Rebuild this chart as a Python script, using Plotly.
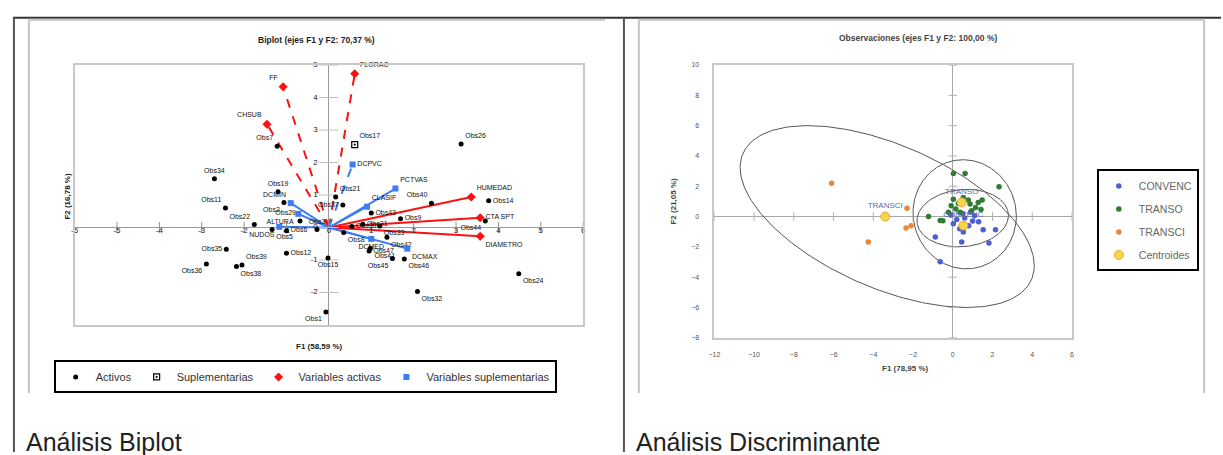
import numpy as np
import plotly.graph_objects as go

W, H = 1223, 455
def px(x): return x / W
def py(y): return 1 - y / H

FONT = "Liberation Sans, Arial, sans-serif"

# ---------------- Biplot data ----------------
ACT_X = [-1.22, 3.12, -2.70, -1.20, -1.06, -2.44, 0.16, 0.33, 2.42, 1.69, 3.77, 3.69,
         -1.76, -1.34, -1.00, -0.68, -0.28, 0.54, 0.98, 1.37, 1.50, 1.78, -1.00, -0.02,
         -2.18, -2.42, -2.89, 4.48, 2.09, -0.07, 0.80, 1.20, 1.00, 0.35, -2.05, 0.95]
ACT_Y = [2.50, 2.57, 1.50, 1.10, 0.77, 0.60, 0.94, 0.69, 0.75, 0.27, 0.82, 0.20,
         0.09, -0.06, -0.10, 0.20, -0.06, 0.03, -0.64, -0.30, -0.95, -0.97, -0.79, -0.94,
         -1.20, -0.67, -1.12, -1.42, -1.97, -2.60, 0.10, 0.05, 0.45, -0.15, -1.15, -0.72]
ACT_LBL = ["Obs7", "Obs26", "Obs34", "Obs19", "Obs2", "Obs11", "Obs21", "Obs37", "Obs40",
           "Obs9", "Obs14", "Obs44", "Obs22", "Obs5", "Obs6", "Obs29", "Obs3", "Obs30",
           "Obs41", "Obs42", "Obs45", "Obs46", "Obs12", "Obs15", "Obs38", "Obs35", "Obs36",
           "Obs24", "Obs32", "Obs1", "Obs31", "Obs33", "Obs43", "Obs8", "Obs39", "Obs47"]
ACT_POS = ["top left", "top right", "top center", "top center", "bottom left", "top left",
           "top right", "middle left", "top left", "middle right", "middle right", "bottom left",
           "top left", "bottom right", "middle right", "top left", "top center", "middle right",
           "bottom right", "bottom right", "bottom left", "bottom right", "middle right", "bottom center",
           "bottom right", "middle left", "bottom left", "bottom right", "bottom right", "bottom left",
           "middle right", "bottom right", "middle right", "bottom right", "top right", "middle right"]

SUP_X = [0.61]
SUP_Y = [2.55]
SUP_LBL = ["Obs17"]

VA_X = [0.61, -1.08, -1.46, 3.36, 3.57, 3.57]
VA_Y = [4.73, 4.33, 3.18, 0.94, 0.30, -0.27]
VA_LBL = ["FLORAC", "FF", "CHSUB", "HUMEDAD", "CTA SPT", "DIAMETRO"]
VA_POS = ["top right", "top left", "top left", "top right", "middle right", "bottom right"]

VS_X = [0.56, 1.57, 0.90, -0.90, -0.72, -1.17, 1.85, 1.00]
VS_Y = [1.94, 1.20, 0.64, 0.75, 0.42, 0.02, -0.65, -0.35]
VS_LBL = ["DCPVC", "PCTVAS", "CLASIF", "DCMIN", "ALTURA", "NUDOS", "DCMAX", "DCMED"]
VS_POS = ["middle right", "top right", "top right", "top left", "bottom left", "bottom left",
          "bottom right", "bottom center"]

BX_TICKS = [-6, -5, -4, -3, -2, -1, 0, 1, 2, 3, 4, 5, 6]
BY_TICKS = [-2, -1, 0, 1, 2, 3, 4, 5]

# ---------------- Discriminant data ----------------
CONV_X = [-0.88, -0.63, 0.53, 0.45, 1.53, 2.15, 1.82, 0.03, 0.35, 0.80, 1.10, 0.60,
          0.20, 1.30, 0.90, -0.10, 0.50, 1.00]
CONV_Y = [-1.35, -2.98, -1.02, -1.67, -0.87, -0.87, -1.74, -0.48, -0.80, -0.60, 0.05, -0.10,
          -0.20, -0.35, 0.30, 0.10, 0.20, -0.30]
TRSO_X = [0.03, 0.62, 2.33, -1.22, -0.63, 0.03, 0.28, 0.87, 1.28, 1.48, 1.15, 1.42,
          -0.08, 0.15, 0.53, 0.78, -0.22, 0.95, 0.37, -0.50]
TRSO_Y = [2.85, 2.85, 1.96, 0.00, -0.26, 1.15, 0.87, 0.83, 0.93, 1.09, 0.60, 0.46,
          0.72, 0.50, 1.26, 1.09, 0.28, 0.39, 0.28, -0.28]
TRCI_X = [-6.10, -4.25, -2.35, -2.10, -2.30]
TRCI_Y = [2.20, -1.67, -0.75, -0.60, 0.55]
CENT_X = [-3.40, 0.45, 0.53]
CENT_Y = [0.00, 0.93, -0.59]
CENT_LBL = ["TRANSCI", "TRANSO", "CONVENC"]

# confidence ellipses: centre and covariance (xx, xy, yy)
ELL_CX = [-3.30, 0.60, 0.50]
ELL_CY = [0.00, 0.15, -0.10]
ELL_SXX = [54.8, 6.76, 5.30]
ELL_SXY = [-24.0, -0.3, 0.40]
ELL_SYY = [36.0, 12.96, 3.60]

DX_TICKS = [-12, -10, -8, -6, -4, -2, 0, 2, 4, 6]
DY_TICKS = [-8, -6, -4, -2, 0, 2, 4, 6, 8, 10]

fig = go.Figure()

# ---------- biplot ----------
def vec_xy(xs, ys):
    vx, vy = [], []
    for x, y in zip(xs, ys):
        vx += [0, x, None]
        vy += [0, y, None]
    return vx, vy

def split_steep(xs, ys):
    st_x, st_y, fl_x, fl_y = [], [], [], []
    for x, y in zip(xs, ys):
        if abs(y) > 1.5 * abs(x):
            st_x.append(x); st_y.append(y)
        else:
            fl_x.append(x); fl_y.append(y)
    return (st_x, st_y), (fl_x, fl_y)

for (xs, ys, col) in [(VA_X, VA_Y, "#ff1010"), (VS_X, VS_Y, "#3d7cf2")]:
    (sx, sy), (fx, fy) = split_steep(xs, ys)
    for (a, b, dash) in [(sx, sy, "dash"), (fx, fy, "solid")]:
        vx, vy = vec_xy(a, b)
        fig.add_trace(go.Scatter(x=vx, y=vy, mode="lines", xaxis="x", yaxis="y",
                                 line=dict(color=col, width=2, dash=dash),
                                 showlegend=False, hoverinfo="skip"))

# tick marks on the crossing axes
fig.add_trace(go.Scatter(x=BX_TICKS, y=[0] * len(BX_TICKS), mode="markers", xaxis="x", yaxis="y",
                         marker=dict(symbol="line-ns", size=8, line=dict(color="#909090", width=1)),
                         showlegend=False, hoverinfo="skip"))
fig.add_trace(go.Scatter(x=[0] * len(BY_TICKS), y=BY_TICKS, mode="markers", xaxis="x", yaxis="y",
                         marker=dict(symbol="line-ew", size=14, line=dict(color="#c0c0c0", width=1)),
                         showlegend=False, hoverinfo="skip"))
fig.add_trace(go.Scatter(x=BX_TICKS, y=[0] * len(BX_TICKS), mode="text", xaxis="x", yaxis="y",
                         text=[str(t) for t in BX_TICKS], textposition="bottom center",
                         textfont=dict(family=FONT, size=8, color="#222"), cliponaxis=False,
                         showlegend=False, hoverinfo="skip"))
fig.add_trace(go.Scatter(x=[0] * len(BY_TICKS), y=BY_TICKS, mode="text", xaxis="x", yaxis="y",
                         text=["    " + str(t) + "     " for t in BY_TICKS], textposition="middle left",
                         textfont=dict(family=FONT, size=8, color="#222"), cliponaxis=False,
                         showlegend=False, hoverinfo="skip"))

lblfont = dict(family=FONT, size=7, color="#111")
fig.add_trace(go.Scatter(x=ACT_X, y=ACT_Y, mode="markers+text", xaxis="x", yaxis="y",
                         name="Activos", text=ACT_LBL, textposition=ACT_POS, textfont=lblfont,
                         cliponaxis=False,
                         marker=dict(symbol="circle", size=5, color="#000"), legend="legend"))
fig.add_trace(go.Scatter(x=SUP_X, y=SUP_Y, mode="markers+text", xaxis="x", yaxis="y",
                         name="Suplementarias", text=SUP_LBL, textposition="top right",
                         textfont=lblfont, cliponaxis=False,
                         marker=dict(symbol="square-dot", size=6, color="#fff",
                                     line=dict(color="#000", width=1.2)), legend="legend"))
fig.add_trace(go.Scatter(x=VA_X, y=VA_Y, mode="markers+text", xaxis="x", yaxis="y",
                         name="Variables activas", text=VA_LBL, textposition=VA_POS,
                         textfont=lblfont, cliponaxis=False,
                         marker=dict(symbol="diamond", size=7, color="#ff1010"), legend="legend"))
fig.add_trace(go.Scatter(x=VS_X, y=VS_Y, mode="markers+text", xaxis="x", yaxis="y",
                         name="Variables suplementarias", text=VS_LBL, textposition=VS_POS,
                         textfont=lblfont, cliponaxis=False,
                         marker=dict(symbol="square", size=6, color="#3d7cf2"), legend="legend"))

# ---------- discriminant ----------
t = np.linspace(0, 2 * np.pi, 241)
for cx, cy, sxx, sxy, syy in zip(ELL_CX, ELL_CY, ELL_SXX, ELL_SXY, ELL_SYY):
    L = np.linalg.cholesky(np.array([[sxx, sxy], [sxy, syy]]))
    pts = L @ np.vstack([np.cos(t), np.sin(t)])
    fig.add_trace(go.Scatter(x=cx + pts[0], y=cy + pts[1], mode="lines", xaxis="x2", yaxis="y2",
                             line=dict(color="#555", width=1), showlegend=False, hoverinfo="skip"))

fig.add_trace(go.Scatter(x=DX_TICKS, y=[0] * len(DX_TICKS), mode="markers", xaxis="x2", yaxis="y2",
                         marker=dict(symbol="line-ns", size=6, line=dict(color="#b0b0b0", width=1)),
                         showlegend=False, hoverinfo="skip"))
fig.add_trace(go.Scatter(x=[0] * len(DY_TICKS), y=DY_TICKS, mode="markers", xaxis="x2", yaxis="y2",
                         marker=dict(symbol="line-ew", size=6, line=dict(color="#b0b0b0", width=1)),
                         showlegend=False, hoverinfo="skip"))

fig.add_trace(go.Scatter(x=CONV_X, y=CONV_Y, mode="markers", xaxis="x2", yaxis="y2", name="CONVENC",
                         marker=dict(size=5.5, color="#4b5fd6"), legend="legend2", legendgroup="a"))
fig.add_trace(go.Scatter(x=TRSO_X, y=TRSO_Y, mode="markers", xaxis="x2", yaxis="y2", name="TRANSO",
                         marker=dict(size=5.5, color="#2e7d32"), legend="legend2", legendgroup="b"))
fig.add_trace(go.Scatter(x=TRCI_X, y=TRCI_Y, mode="markers", xaxis="x2", yaxis="y2", name="TRANSCI",
                         marker=dict(size=5.5, color="#e8873a"), legend="legend2", legendgroup="c"))
fig.add_trace(go.Scatter(x=CENT_X, y=CENT_Y, mode="markers+text", xaxis="x2", yaxis="y2",
                         name="Centroides", text=CENT_LBL, textposition="top center",
                         textfont=dict(family=FONT, size=8, color="#5d6aa8"),
                         marker=dict(size=9, color="#f7d44a", line=dict(color="#f0a830", width=1)),
                         legend="legend2", legendgroup="d"))

axcommon = dict(showgrid=False, zeroline=True, showline=True, mirror=True, linecolor="#c8c8c8",
                linewidth=1.5, ticks="", fixedrange=True)

fig.update_layout(
    width=W, height=H, margin=dict(l=0, r=0, t=0, b=0),
    paper_bgcolor="#fff", plot_bgcolor="#fff",
    font=dict(family=FONT, size=8, color="#222"),
    xaxis=dict(axcommon, domain=[px(69), px(581)], range=[-6, 6], anchor="y",
               zerolinecolor="#9a9a9a", zerolinewidth=1, showticklabels=False),
    yaxis=dict(axcommon, domain=[py(326), py(62)], range=[-3, 5], anchor="x",
               zerolinecolor="#9a9a9a", zerolinewidth=1, showticklabels=False),
    xaxis2=dict(axcommon, domain=[px(713), px(1073)], range=[-12, 6], anchor="y2",
                zerolinecolor="#a8a8a8", zerolinewidth=1, tickvals=DX_TICKS,
                tickfont=dict(family=FONT, size=7, color="#555"), ticklabelstandoff=9),
    yaxis2=dict(axcommon, domain=[py(339), py(62)], range=[-8, 10], anchor="x2",
                zerolinecolor="#a8a8a8", zerolinewidth=1, tickvals=DY_TICKS,
                tickfont=dict(family=FONT, size=7, color="#555"), ticklabelstandoff=12),
    legend=dict(orientation="h", x=px(48), y=py(362), xanchor="left", yanchor="top",
                bordercolor="#000", borderwidth=2, bgcolor="#fff",
                font=dict(family=FONT, size=11, color="#333"), itemclick=False),
    legend2=dict(orientation="v", x=px(1098), y=py(168), xanchor="left", yanchor="top",
                 bordercolor="#000", borderwidth=2, bgcolor="#fff", tracegroupgap=4,
                 itemwidth=30, font=dict(family=FONT, size=10.5, color="#666"), itemclick=False),
)

def ann(text, x, y, size=8, bold=False, color="#222", angle=0, xanchor="center", yanchor="middle"):
    fig.add_annotation(text=("<b>%s</b>" % text) if bold else text, x=px(x), y=py(y),
                       xref="paper", yref="paper", showarrow=False, textangle=angle,
                       xanchor=xanchor, yanchor=yanchor,
                       font=dict(family=FONT, size=size, color=color))

ann("Biplot (ejes F1 y F2: 70,37 %)", 313, 37, size=8.5, bold=True)
ann("F1 (58,59 %)", 316, 348, size=8, bold=True)
ann("F2 (16,78 %)", 61, 195, size=8, bold=True, angle=-90)
ann("Observaciones (ejes F1 y F2: 100,00 %)", 918, 35, size=8.5, bold=True, color="#444")
ann("F1 (78,95 %)", 905, 370, size=8, bold=True, color="#444")
ann("F2 (21,05 %)", 672, 200, size=8, bold=True, color="#444", angle=-90)
ann("Análisis Biplot", 18, 429, size=25, color="#222", xanchor="left", yanchor="top")
ann("Análisis Discriminante", 632, 429, size=25, color="#222", xanchor="left", yanchor="top")

def line(x0, y0, x1, y1, color, w):
    fig.add_shape(type="line", xref="paper", yref="paper", x0=px(x0), y0=py(y0), x1=px(x1), y1=py(y1),
                  line=dict(color=color, width=w))

line(7, 14, 1223, 14, "#333", 2)
line(8, 14, 8, 455, "#555", 2)
line(622, 14, 622, 455, "#555", 2)
line(23, 16, 603, 16, "#c4c4c4", 2)
line(23, 16, 23, 395, "#c4c4c4", 2)
line(637, 16, 1206, 16, "#c4c4c4", 2)
line(637, 16, 637, 395, "#c4c4c4", 2)
line(1206, 16, 1206, 395, "#c4c4c4", 2)

fig.write_html("out.html", config={"displayModeBar": False},
               post_script="document.body.style.margin='0';document.body.style.padding='0';"
                           "document.documentElement.style.overflow='hidden';")
